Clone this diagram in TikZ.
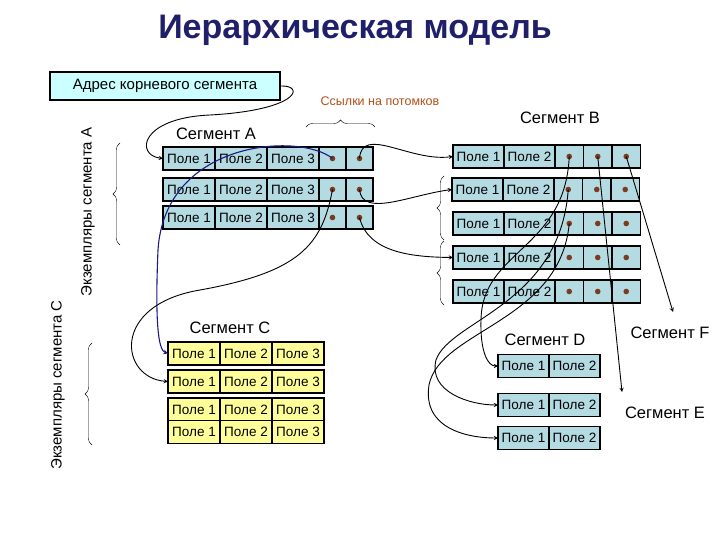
\documentclass[tikz,border=0pt]{standalone}
\usepackage{fontspec}
\setmainfont{Liberation Sans}
\usetikzlibrary{positioning,chains,decorations.pathreplacing}
\definecolor{cellblue}{HTML}{B4DAE2}
\definecolor{cellyellow}{HTML}{FFFF99}
\definecolor{rootcyan}{HTML}{CCFFFF}
\definecolor{dotbrown}{HTML}{7A3B1E}
\definecolor{navy}{HTML}{1A1A80}
\definecolor{titleblue}{HTML}{1F1F6A}
\definecolor{notebrown}{HTML}{B0501A}

% row of cells: name, x, y, fill, fields, pointers
\newcommand\segrow[6]{%
  \begin{scope}[start chain=#1 going right,node distance=0pt]
    \node[fld,fill=#4,on chain,anchor=west] at (#2,#3) {Поле 1};
    \foreach \i in {2,...,#5} \node[fld,fill=#4,on chain] {Поле \i};
    \ifnum#6>0 \foreach \i in {1,...,#6} \node[ptr,fill=#4,on chain] {};\fi
  \end{scope}}

\begin{document}
\begin{tikzpicture}[x=1pt,y=-1pt,>=stealth,
    fld/.style={draw,line width=1.1pt,minimum width=52pt,minimum height=23pt,
      inner sep=0pt,outer sep=0pt,font=\fontsize{13.5}{14}\selectfont},
    ptr/.style={draw,line width=1.1pt,minimum width=27pt,minimum height=23pt,
      inner sep=0pt,outer sep=0pt,
      path picture={\fill[dotbrown] (path picture bounding box.center) circle (2.8pt);}},
    link/.style={->,line width=0.9pt},
    lbl/.style={font=\fontsize{16.5}{17}\selectfont},
    brc/.style={decorate,decoration={brace,amplitude=7pt},thin}
    ]
\useasboundingbox (0,0) rectangle (720,540);
\node[font=\fontsize{34}{36}\selectfont\bfseries,text=titleblue] (title) at (355,30) {Иерархическая модель};
\node[draw,line width=1.4pt,fill=rootcyan,minimum width=230pt,minimum height=28pt,
  font=\fontsize{15}{16}\selectfont] (root) at (165,86) {Адрес корневого сегмента};
\node[rotate=90,font=\fontsize{15}{16}\selectfont] (instA) at (88,212) {Экземпляры сегмента А};
\node[rotate=90,font=\fontsize{15}{16}\selectfont] (instC) at (58,385) {Экземпляры сегмента С};
\node[font=\fontsize{12.5}{13}\selectfont,text=notebrown] (refs) at (380,101) {Ссылки на потомков};

% segment A
\node[lbl] (segA) at (216,134) {Сегмент А};
\segrow{a1}{163}{158.5}{cellblue}{3}{2}
\segrow{a2}{163}{189.5}{cellblue}{3}{2}
\segrow{a3}{163}{217.5}{cellblue}{3}{2}
\tikzset{ptr/.append style={minimum width=28.5pt},fld/.append style={minimum width=51pt}}
% segment B
\node[lbl] (segB) at (560,118) {Сегмент В};
\segrow{b1}{453}{156.5}{cellblue}{2}{3}
\segrow{b2}{452}{189.5}{cellblue}{2}{3}
\segrow{b3}{453}{223.5}{cellblue}{2}{3}
\segrow{b4}{453}{257.5}{cellblue}{2}{3}
\segrow{b5}{453}{291.5}{cellblue}{2}{3}
% segment C
\node[lbl] (segC) at (230,328) {Сегмент С};
\tikzset{fld/.append style={minimum width=52pt}}
\segrow{c1}{168}{353.5}{cellyellow}{3}{0}
\segrow{c2}{168}{381.5}{cellyellow}{3}{0}
\segrow{c3}{168}{409.5}{cellyellow}{3}{0}
\segrow{c4}{168}{432}{cellyellow}{3}{0}
% segment D
\node[lbl] (segD) at (545,340) {Сегмент D};
\tikzset{fld/.append style={minimum width=51pt}}
\segrow{d1}{498}{366}{cellblue}{2}{0}
\segrow{d2}{498}{405}{cellblue}{2}{0}
\segrow{d3}{498}{438}{cellblue}{2}{0}
\node[lbl] (segF) at (670,333) {Сегмент F};
\node[lbl] (segE) at (665,413) {Сегмент Е};
\coordinate (tipF) at (673,312);
\coordinate (tipE) at (622,392);

% braces
\draw[brc] (120,245) -- (120,143);
\draw[brc] (92,445) -- (92,343);
\draw[brc] (306,127) -- (375,127);
\draw[brc] (444,240) -- (444,176);
\draw[brc] (444,305) -- (444,241);

% links
\draw[link] (root.east) .. controls (305,85) and (300,110) .. (210,115)
  .. controls (140,118) and (135,155) .. (a1-1.west);
\draw[link,navy,line width=1.1pt] (a1-4.center) .. controls (300,132) and (165,140) .. (158,250)
  .. controls (155,320) and (158,350) .. (c1-1.west);
\draw[link] (a2-4.center) .. controls (322,245) and (300,272) .. (200,290)
  .. controls (110,305) and (120,378) .. (c2-1.west);
\draw[link] (a1-5.center) .. controls (362,125) and (410,162) .. (b1-1.west);
\draw[link] (a2-5.center) .. controls (362,218) and (410,195) .. (b2-1.west);
\draw[link] (a3-5.center) .. controls (368,252) and (410,257) .. (b4-1.west);
\draw[link] (b1-3.center) .. controls (565,250) and (482,250) .. (481,320)
  .. controls (480,352) and (488,366) .. (d1-1.west);
\draw[link] (b2-3.center) .. controls (560,305) and (450,320) .. (436,360)
  .. controls (428,392) and (470,405) .. (d2-1.west);
\draw[link] (b3-3.center) .. controls (560,322) and (440,330) .. (429,385)
  .. controls (422,430) and (470,438) .. (d3-1.west);
\draw[link] (b1-4.center) -- (tipE);
\draw[link] (b1-5.center) -- (tipF);
\end{tikzpicture}
\end{document}
